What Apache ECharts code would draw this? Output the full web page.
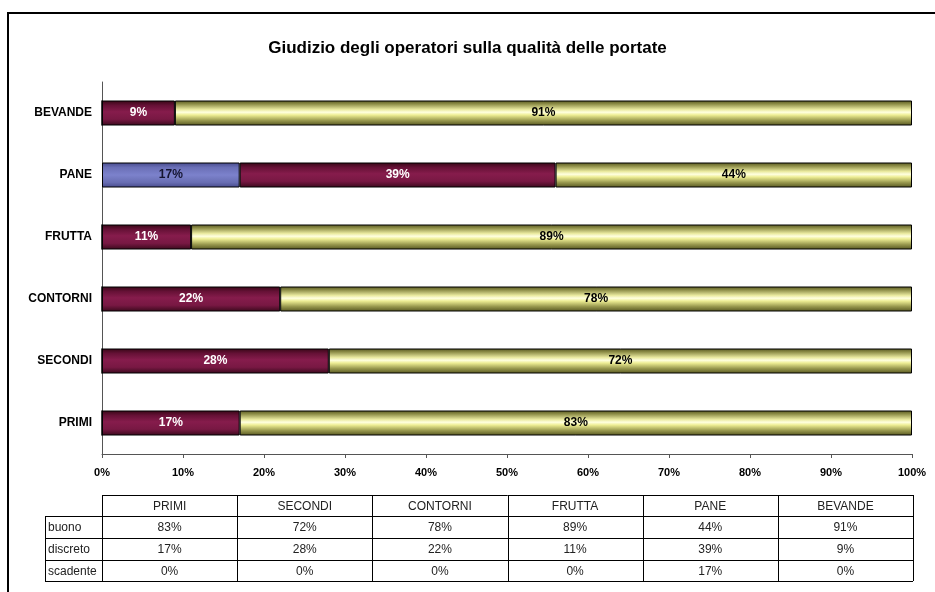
<!DOCTYPE html>
<html>
<head>
<meta charset="utf-8">
<title>Giudizio degli operatori</title>
<script src="https://cdn.jsdelivr.net/npm/echarts@6/dist/echarts.min.js"></script>
<style>
    html, body { margin: 0; padding: 0; background: #fff; }
    #chart { width: 935px; height: 592px; }
</style>
</head>
<body>
<div id="chart"></div>
<script>
    // dati (valori in %)
    var categorie = ['PRIMI', 'SECONDI', 'CONTORNI', 'FRUTTA', 'PANE', 'BEVANDE'];
    var buono = [83, 72, 78, 89, 44, 91];
    var discreto = [17, 28, 22, 11, 39, 9];
    var scadente = [0, 0, 0, 0, 17, 0];
    var righeTabella = ['buono', 'discreto', 'scadente'];
    var titolo = 'Giudizio degli operatori sulla qualità delle portate';

    var myChart = echarts.init(document.getElementById('chart'));

    function grad(stops) {
        return new echarts.graphic.LinearGradient(0, 0, 0, 1, stops.map(function (s) {
            return { offset: s[0], color: s[1] };
        }));
    }

    var giallo = grad([[0, '#55551f'], [0.14, '#8e8e48'], [0.36, '#eaeaa0'], [0.47, '#ffffe0'],
        [0.58, '#eeee94'], [0.8, '#98984e'], [1, '#55551f']]);
    var bordeaux = grad([[0, '#360716'], [0.2, '#661136'], [0.45, '#861c4c'], [0.75, '#781843'], [1, '#3a091c']]);
    var blu = grad([[0, '#464a8c'], [0.2, '#6a6fb6'], [0.5, '#7c82cc'], [0.8, '#686db2'], [1, '#464a8c']]);

    function etichetta(col) {
        return {
            show: true,
            position: 'inside',
            color: col,
            fontFamily: 'Liberation Sans Narrow, Liberation Sans, Arial',
            fontWeight: 'bold',
            fontSize: 12,
            formatter: function (p) { return p.value > 0 ? p.value + '%' : ''; }
        };
    }

    function serie(nome, dati, colore, colTesto) {
        return {
            name: nome,
            type: 'bar',
            stack: 'tot',
            barWidth: 25,
            data: dati,
            itemStyle: { color: colore, borderColor: '#000', borderWidth: 1 },
            label: etichetta(colTesto)
        };
    }

    // tabella dati sotto il grafico
    var tabX0 = 45, colX0 = 102, colX1 = 913;
    var colW = (colX1 - colX0) / categorie.length;
    var rigaY = [495, 516, 538, 560, 581];
    var grafica = [];
    var linea = function (x1, y1, x2, y2) {
        grafica.push({
            type: 'line',
            shape: { x1: x1, y1: y1, x2: x2, y2: y2 },
            style: { stroke: '#000', lineWidth: 1 }
        });
    };
    var testo = function (x, y, t, align) {
        grafica.push({
            type: 'text',
            x: x, y: y,
            style: {
                text: t, fill: '#222', align: align, verticalAlign: 'middle',
                font: '12px "Liberation Sans", Arial'
            }
        });
    };

    linea(colX0, rigaY[0] + 0.5, colX1, rigaY[0] + 0.5);
    for (var r = 1; r < rigaY.length; r++) {
        linea(tabX0, rigaY[r] + 0.5, colX1, rigaY[r] + 0.5);
    }
    linea(tabX0 + 0.5, rigaY[1], tabX0 + 0.5, rigaY[4]);
    for (var c = 0; c <= categorie.length; c++) {
        var xx = Math.round(colX0 + c * colW) + 0.5;
        linea(xx, rigaY[0], xx, rigaY[4]);
    }
    var valori = [buono, discreto, scadente];
    categorie.forEach(function (cat, i) {
        var cx = colX0 + (i + 0.5) * colW;
        testo(cx, (rigaY[0] + rigaY[1]) / 2 + 1, cat, 'center');
        valori.forEach(function (arr, j) {
            testo(cx, (rigaY[j + 1] + rigaY[j + 2]) / 2 + 1, arr[i] + '%', 'center');
        });
    });
    righeTabella.forEach(function (nome, j) {
        testo(tabX0 + 3, (rigaY[j + 1] + rigaY[j + 2]) / 2 + 1, nome, 'left');
    });

    // cornice esterna
    grafica.push({
        type: 'rect',
        shape: { x: 8, y: 13, width: 1200, height: 1200 },
        style: { fill: 'none', stroke: '#000', lineWidth: 2 },
        z: 0
    });

    var option = {
        animation: false,
        title: {
            text: titolo,
            left: 'center',
            top: 35,
            textStyle: {
                fontFamily: 'Liberation Sans, Arial',
                fontSize: 17,
                fontWeight: 'bold',
                color: '#000'
            }
        },
        grid: { left: 102, right: 23, top: 82, bottom: 138, containLabel: false },
        xAxis: {
            type: 'value',
            min: 0,
            max: 100,
            interval: 10,
            splitLine: { show: false },
            axisLine: { show: true, lineStyle: { color: '#555', width: 1 } },
            axisTick: { show: true, length: 4, lineStyle: { color: '#555' } },
            axisLabel: {
                formatter: '{value}%',
                margin: 13,
                color: '#000',
                fontFamily: 'Liberation Sans, Arial',
                fontWeight: 'bold',
                fontSize: 11
            }
        },
        yAxis: {
            type: 'category',
            data: categorie,
            axisLine: { show: true, lineStyle: { color: '#555', width: 1 } },
            axisTick: { show: false },
            axisLabel: {
                margin: 10,
                color: '#000',
                fontFamily: 'Liberation Sans, Arial',
                fontWeight: 'bold',
                fontSize: 12
            }
        },
        series: [
            serie('scadente', scadente, blu, '#141430'),
            serie('discreto', discreto, bordeaux, '#fff'),
            serie('buono', buono, giallo, '#000')
        ],
        graphic: grafica
    };

    myChart.setOption(option, true);
    window.addEventListener('resize', function () {
        myChart.resize();
    });
</script>
</body>
</html>
